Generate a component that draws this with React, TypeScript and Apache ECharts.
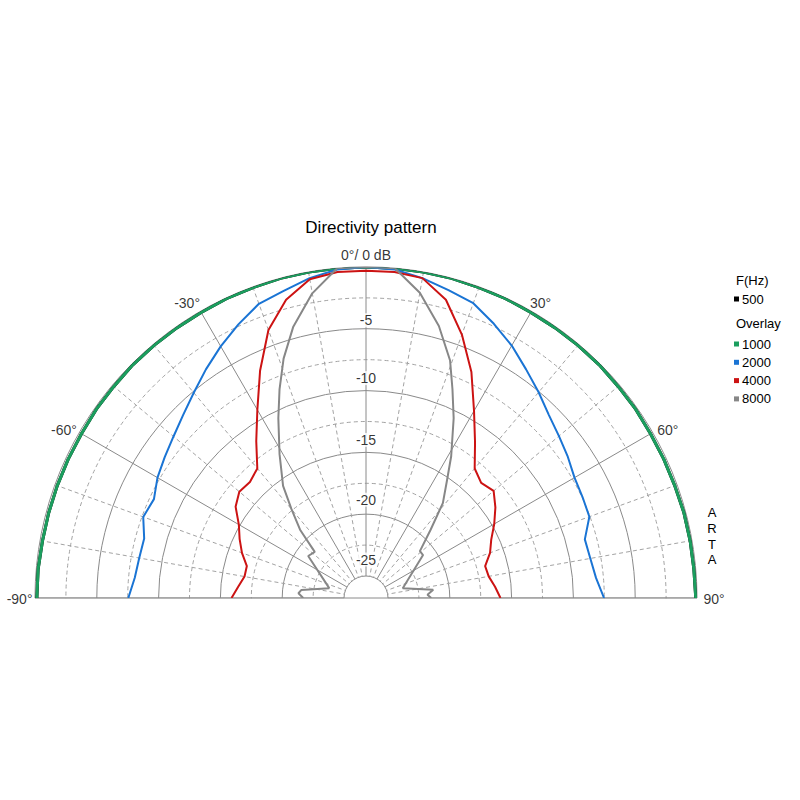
import React, { useEffect, useRef } from 'react';
import * as echarts from 'echarts';

// ---------- data ----------
const TITLE = 'Directivity pattern';
const LEGEND_HEAD = 'F(Hz)';
const OVERLAY_HEAD = 'Overlay';
const BRAND = 'ARTA';
const MAIN_FREQ = ['500'];
const OVERLAY_FREQ = ['1000', '2000', '4000', '8000'];
const ANGLE_LABELS = [-90, -60, -30, 0, 30, 60, 90];
const RADIAL_LABELS = [-5, -10, -15, -20, -25];

const ANGLES = [-90, -85, -80, -75, -70, -65, -60, -55, -50, -45, -40, -35, -30, -25, -20, -15, -10, -5, 0,
  5, 10, 15, 20, 25, 30, 35, 40, 45, 50, 55, 60, 65, 70, 75, 80, 85, 90];

const SPL_500 = [-0.15, -0.15, -0.2, -0.2, -0.2, -0.2, -0.2, -0.15, -0.15, -0.1, -0.1, -0.1, -0.1, -0.05, -0.05, 0, 0, 0, 0,
  0, 0, 0, -0.05, -0.05, -0.1, -0.1, -0.1, -0.1, -0.15, -0.15, -0.2, -0.2, -0.2, -0.15, -0.15, -0.15, -0.1];
const SPL_1000 = [-0.15, -0.15, -0.2, -0.2, -0.2, -0.2, -0.2, -0.15, -0.15, -0.1, -0.1, -0.1, -0.1, -0.05, -0.05, 0, 0, 0, 0,
  0, 0, 0, -0.05, -0.05, -0.1, -0.1, -0.1, -0.1, -0.15, -0.15, -0.2, -0.2, -0.2, -0.15, -0.15, -0.15, -0.1];
const SPL_2000 = [-7.55, -8.0, -8.15, -8.2, -7.6, -7.85, -7.3, -6.9, -6.45, -5.85, -5.1, -4.2, -3.27, -2.35, -1.45, -1.05, -0.5, -0.1, 0,
  -0.1, -0.5, -1.0, -1.4, -2.3, -3.2, -4.2, -5.05, -5.85, -6.4, -6.85, -7.3, -7.45, -7.55, -8.45, -8.35, -8.1, -7.52];
const SPL_4000 = [-15.9, -16.4, -16.8, -16.8, -16.1, -15.5, -14.9, -13.9, -13.4, -13.5, -13.1, -11.3, -9.2, -6.5, -3.7, -1.8, -0.6, -0.3, -0.3,
  -0.3, -0.5, -1.8, -4.1, -6.6, -9.3, -11.4, -13.1, -13.6, -13.3, -14.0, -14.8, -15.6, -16.1, -16.8, -16.7, -16.3, -15.9];

const ANGLES_8000 = [-90, -86, -83, -75, -54, -48, -44, -40, -36.5, -31, -26, -22.5, -19, -15, -10, -5, 0,
  5, 10, 15, 19.5, 22.5, 26, 31, 34.5, 39, 43.5, 49, 53, 75, 83, 87, 90];
const SPL_8000 = [-21.7, -21.3, -21.5, -23.7, -21.0, -21.2, -19.1, -17.4, -15.5, -13.2, -10.6, -8.5, -6.3, -4.05, -1.75, 0, 0,
  0, -1.7, -4.0, -6.4, -8.5, -10.6, -13.4, -15.2, -16.9, -19.2, -21.0, -21.0, -23.7, -21.3, -21.8, -21.5];

// ---------- style ----------
const CX = 366;
const CY = 598;
const R_IN = 22;
const R_OUT = 331;
const FONT = '"Liberation Sans", Arial, sans-serif';
const COLORS: Record<string, string> = {
  '500': '#000000',
  '1000': '#1b9e5e',
  '2000': '#1a74d4',
  '4000': '#cc1313',
  '8000': '#878787',
};
const WIDTHS: Record<string, number> = { '500': 3, '1000': 3, '2000': 2, '4000': 2, '8000': 2 };
const GRID_SOLID = '#8a8a8a';
const GRID_DASH = '#a3a3a3';

const ANGLE_LABEL_STYLE: Record<string, any> = {
  '-90': { position: 'left', distance: 2, offset: [0, 1] },
  '-60': { position: 'left', distance: 2, offset: [0, -3] },
  '-30': { position: 'left', distance: 0, offset: [0, -8] },
  '0': { position: 'top', distance: 5, offset: [0, 0] },
  '30': { position: 'right', distance: -2, offset: [0, -8] },
  '60': { position: 'right', distance: 4, offset: [0, -3] },
  '90': { position: 'right', distance: 6, offset: [0, 1] },
};
const RADIAL_LABEL_DIST: Record<string, number> = { '-5': 1, '-10': 5, '-15': 5, '-20': 7, '-25': 9 };

function pairs(angles: number[], vals: number[]) {
  return vals.map((v, i) => [v, angles[i]]);
}

function lineSeries(name: string, angles: number[], vals: number[]) {
  return {
    name,
    type: 'line',
    coordinateSystem: 'polar',
    data: pairs(angles, vals),
    showSymbol: false,
    symbol: 'none',
    smooth: false,
    lineStyle: { color: COLORS[name], width: WIDTHS[name] },
    itemStyle: { color: COLORS[name] },
    silent: true,
  };
}

export default function App() {
  const ref = useRef<HTMLDivElement>(null);

  useEffect(() => {
    document.body.style.margin = '0';
    const chart = echarts.init(ref.current!, undefined, { renderer: 'svg' });

    const legendText = { fontFamily: FONT, fontSize: 13, color: '#000', lineHeight: 14, padding: [0, 0, 0, -2] };

    const option: any = {
      animation: false,
      backgroundColor: '#ffffff',
      textStyle: { fontFamily: FONT },
      title: {
        text: TITLE,
        left: CX,
        top: 214,
        padding: 5,
        textAlign: 'center',
        textStyle: { fontFamily: FONT, fontSize: 17, fontWeight: 'normal', color: '#000' },
      },
      legend: [
        {
          data: MAIN_FREQ,
          orient: 'vertical',
          left: 734,
          top: 292,
          padding: 0,
          icon: 'rect',
          itemWidth: 5,
          itemHeight: 5,
          itemGap: 4,
          selectedMode: false,
          textStyle: legendText,
        },
        {
          data: OVERLAY_FREQ,
          orient: 'vertical',
          left: 734,
          top: 337,
          padding: 0,
          icon: 'rect',
          itemWidth: 5,
          itemHeight: 5,
          itemGap: 4.3,
          selectedMode: false,
          textStyle: legendText,
        },
      ],
      polar: { center: [CX, CY], radius: [R_IN, R_OUT] },
      angleAxis: {
        type: 'value',
        min: -90,
        max: 90,
        interval: 30,
        startAngle: 180,
        endAngle: 0,
        clockwise: true,
        axisLine: { show: false },
        axisTick: { show: false },
        axisLabel: { show: false },
        splitLine: { show: true, lineStyle: { color: GRID_SOLID, width: 1 } },
        minorTick: { show: false, splitNumber: 3 },
        minorSplitLine: { show: true, lineStyle: { color: GRID_DASH, width: 1, type: [4, 3] } },
      },
      radiusAxis: {
        type: 'value',
        min: -25,
        max: 0,
        interval: 5,
        axisLine: { show: false },
        axisTick: { show: false },
        axisLabel: { show: false },
        splitLine: { show: true, lineStyle: { color: GRID_SOLID, width: 1 } },
        minorTick: { show: false, splitNumber: 2 },
        minorSplitLine: { show: true, lineStyle: { color: GRID_DASH, width: 1, type: [4, 3] } },
      },
      graphic: [
        {
          type: 'rect',
          z: 1,
          silent: true,
          shape: { x: 0, y: CY + 0.5, width: 800, height: 800 - CY },
          style: { fill: '#ffffff' },
        },
        {
          type: 'line',
          z: 1,
          silent: true,
          shape: { x1: CX - R_OUT, y1: CY, x2: CX + R_OUT, y2: CY },
          style: { stroke: GRID_SOLID, lineWidth: 1 },
        },
        {
          type: 'text',
          x: 736,
          y: 280,
          style: { text: LEGEND_HEAD, font: `13px ${FONT}`, fill: '#000', verticalAlign: 'middle' },
        },
        {
          type: 'text',
          x: 736,
          y: 323,
          style: { text: OVERLAY_HEAD, font: `13px ${FONT}`, fill: '#000', verticalAlign: 'middle' },
        },
        {
          type: 'text',
          x: 712,
          y: 505,
          style: {
            text: BRAND.split('').join('\n'),
            font: `13px ${FONT}`,
            lineHeight: 15.6,
            fill: '#000',
            align: 'center',
            verticalAlign: 'top',
          },
        },
      ],
      series: [
        lineSeries('500', ANGLES, SPL_500),
        lineSeries('1000', ANGLES, SPL_1000),
        lineSeries('2000', ANGLES, SPL_2000),
        lineSeries('4000', ANGLES, SPL_4000),
        lineSeries('8000', ANGLES_8000, SPL_8000),
        {
          type: 'scatter',
          coordinateSystem: 'polar',
          silent: true,
          symbolSize: 1,
          itemStyle: { color: 'rgba(0,0,0,0)' },
          z: 5,
          data: RADIAL_LABELS.map((v) => ({
            value: [v, 0],
            label: { distance: RADIAL_LABEL_DIST[String(v)] },
          })),
          label: {
            show: true,
            position: 'top',
            formatter: (p: any) => String(p.value[0]),
            fontFamily: FONT,
            fontSize: 14,
            color: '#000',
            backgroundColor: '#ffffff',
            padding: [0, 1],
          },
        },
        {
          type: 'scatter',
          coordinateSystem: 'polar',
          silent: true,
          symbolSize: 1,
          itemStyle: { color: 'rgba(0,0,0,0)' },
          z: 5,
          data: ANGLE_LABELS.map((a) => ({
            value: [0, a],
            label: ANGLE_LABEL_STYLE[String(a)],
          })),
          label: {
            show: true,
            formatter: (p: any) => (p.value[1] === 0 ? '0\u00b0/ 0 dB' : `${p.value[1]}\u00b0`),
            fontFamily: FONT,
            fontSize: 14,
            color: '#000',
          },
        },
      ],
    };

    chart.setOption(option);
    return () => chart.dispose();
  }, []);

  return <div ref={ref} style={{ width: 800, height: 800 }} />;
}
